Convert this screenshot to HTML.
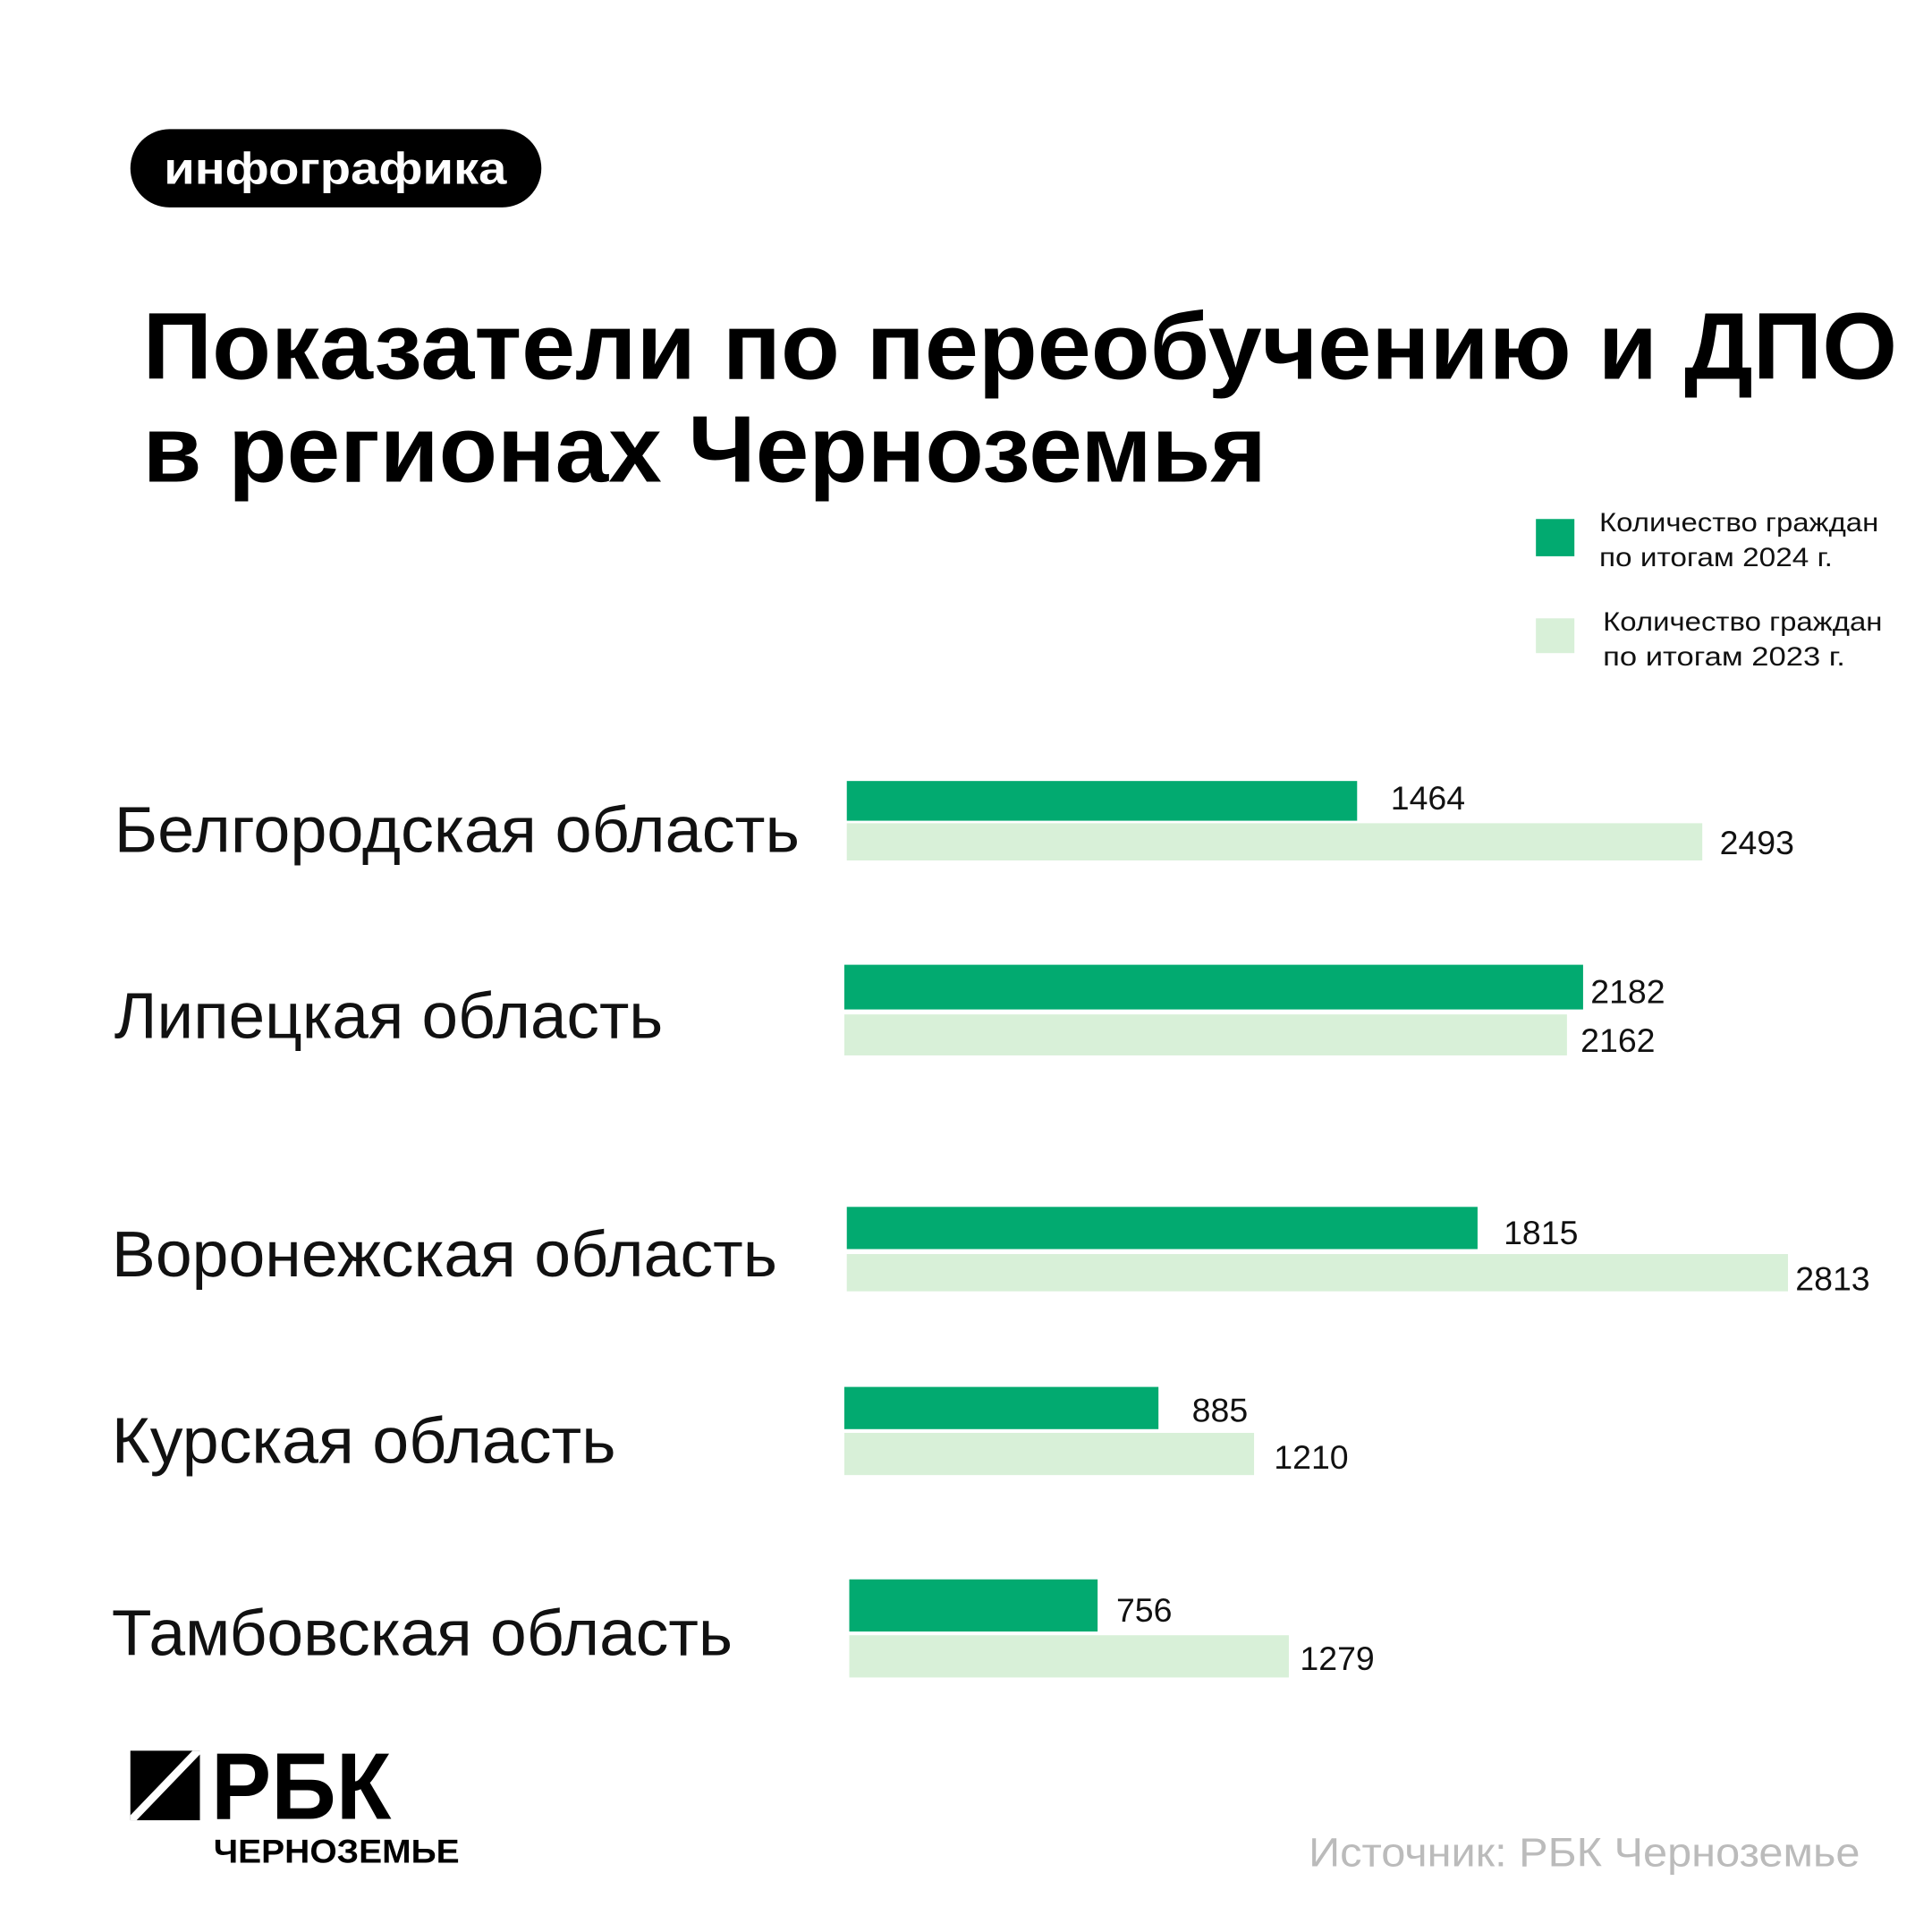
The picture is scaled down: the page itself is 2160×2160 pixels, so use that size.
<!DOCTYPE html>
<html><head><meta charset="utf-8"><style>
html,body{margin:0;padding:0;background:#fff}
svg{display:block}
text{font-family:"Liberation Sans",sans-serif}
</style></head><body>
<svg width="2160" height="2160" viewBox="0 0 1556 1556" xmlns="http://www.w3.org/2000/svg">
<rect width="1556" height="1556" fill="#fff"/>
<rect x="105" y="104" width="331" height="63" rx="31.5" fill="#000"/>
<text x="132" y="148" font-size="36" font-weight="bold" fill="#fff" textLength="276" lengthAdjust="spacingAndGlyphs">инфографика</text>
<text x="115" y="305" font-size="76" font-weight="bold" fill="#000" textLength="1413" lengthAdjust="spacingAndGlyphs">Показатели по переобучению и ДПО</text>
<text x="115" y="388" font-size="76" font-weight="bold" fill="#000" textLength="905" lengthAdjust="spacingAndGlyphs">в регионах Черноземья</text>
<rect x="1237" y="418" width="31" height="30" fill="#02aa70"/>
<text x="1288" y="428" font-size="21" fill="#111" textLength="225" lengthAdjust="spacingAndGlyphs">Количество граждан</text>
<text x="1288" y="456" font-size="21" fill="#111" textLength="188" lengthAdjust="spacingAndGlyphs">по итогам 2024 г.</text>
<rect x="1237" y="498" width="31" height="28" fill="#d8f0d8"/>
<text x="1291" y="508" font-size="21" fill="#111" textLength="225" lengthAdjust="spacingAndGlyphs">Количество граждан</text>
<text x="1291" y="536" font-size="21" fill="#111" textLength="195" lengthAdjust="spacingAndGlyphs">по итогам 2023  г.</text>
<g fill="#02aa70">
<rect x="682" y="629" width="411" height="32"/>
<rect x="680" y="777" width="595" height="36"/>
<rect x="682" y="972" width="508" height="34"/>
<rect x="680" y="1117" width="253" height="34"/>
<rect x="684" y="1272" width="200" height="42"/>
</g>
<g fill="#d8f0d8">
<rect x="682" y="663" width="689" height="30"/>
<rect x="680" y="817" width="582" height="33"/>
<rect x="682" y="1010" width="758" height="30"/>
<rect x="680" y="1154" width="330" height="34"/>
<rect x="684" y="1317" width="354" height="34"/>
</g>
<g font-size="52" fill="#111">
<text x="92" y="686" textLength="552" lengthAdjust="spacingAndGlyphs">Белгородская область</text>
<text x="92" y="836" textLength="442" lengthAdjust="spacingAndGlyphs">Липецкая область</text>
<text x="90" y="1028" textLength="536" lengthAdjust="spacingAndGlyphs">Воронежская область</text>
<text x="90" y="1178" textLength="406" lengthAdjust="spacingAndGlyphs">Курская область</text>
<text x="90" y="1333" textLength="500" lengthAdjust="spacingAndGlyphs">Тамбовская область</text>
</g>
<g font-size="27" fill="#111">
<text x="1120" y="652">1464</text>
<text x="1385" y="688">2493</text>
<text x="1281" y="808">2182</text>
<text x="1273" y="847">2162</text>
<text x="1211" y="1002">1815</text>
<text x="1446" y="1039">2813</text>
<text x="960" y="1145">885</text>
<text x="1026" y="1183">1210</text>
<text x="899" y="1306">756</text>
<text x="1047" y="1345">1279</text>
</g>
<rect x="105" y="1410" width="56" height="56" fill="#000"/>
<polygon points="105,1466 110,1466 161,1413 161,1410 155,1410 105,1462" fill="#fff"/>
<text x="170" y="1465" font-size="76" font-weight="bold" fill="#000" textLength="145" lengthAdjust="spacingAndGlyphs">РБК</text>
<text x="172" y="1500" font-size="27" font-weight="bold" fill="#000" textLength="198" lengthAdjust="spacingAndGlyphs">ЧЕРНОЗЕМЬЕ</text>
<text x="1054" y="1503" font-size="33" fill="#bbb" textLength="444" lengthAdjust="spacingAndGlyphs">Источник: РБК Черноземье</text>
</svg>
</body></html>
